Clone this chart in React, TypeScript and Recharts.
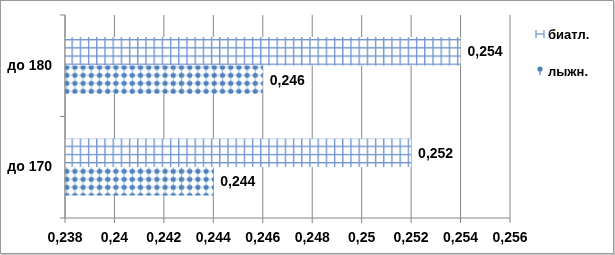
import { BarChart, Bar, XAxis, YAxis, CartesianGrid, LabelList } from 'recharts'

const categories = ['до 180', 'до 170']
const biatlValues = [0.254, 0.252]
const lyzhnValues = [0.246, 0.244]
const seriesNames = ['биатл.', 'лыжн.']
const xTicks = [0.238, 0.24, 0.242, 0.244, 0.246, 0.248, 0.25, 0.252, 0.254, 0.256]

const data = categories.map((name, i) => ({
  name,
  biatl: biatlValues[i],
  lyzhn: lyzhnValues[i],
}))

const FONT = '"Liberation Sans", Arial, sans-serif'
const GRID = '#868686'
const BLUE = '#4f81bd'
const TOP = 15
const PLOT_H = 203
const BAND = PLOT_H / categories.length

function fmt(v: number): string {
  return String(Number(v.toFixed(3))).replace('.', ',')
}

// recharts hands the tick x already shifted left by tickSize + tickMargin (6 + 2)
function CategoryTick(props: any) {
  const { y, payload, index } = props
  const ax = props.x + 8
  const last = index === categories.length - 1
  return (
    <g>
      <line x1={ax - 5} x2={ax} y1={y - BAND / 2} y2={y - BAND / 2} stroke={GRID} />
      {last && <line x1={ax - 5} x2={ax} y1={y + BAND / 2} y2={y + BAND / 2} stroke={GRID} />}
      <text
        x={ax - 13}
        y={y - 1}
        textAnchor="end"
        dominantBaseline="central"
        fontFamily={FONT}
        fontWeight="bold"
        fontSize={14}
        fill="#000"
      >
        {payload.value}
      </text>
    </g>
  )
}

function LegendIcon({ i }: { i: number }) {
  if (i === 0) {
    return (
      <svg width={10} height={10} style={{ marginRight: 3 }}>
        <line x1={1} x2={1} y1={1} y2={9} stroke="#7b9fd6" strokeWidth={1.4} />
        <line x1={9} x2={9} y1={1} y2={9} stroke="#7b9fd6" strokeWidth={1.4} />
        <line x1={1} x2={9} y1={5} y2={5} stroke="#7b9fd6" strokeWidth={1.4} />
      </svg>
    )
  }
  return (
    <svg width={10} height={10} style={{ marginRight: 3 }}>
      <line x1={5} x2={5} y1={3} y2={9} stroke={BLUE} strokeWidth={1.2} />
      <circle cx={5} cy={3} r={2.6} fill={BLUE} />
    </svg>
  )
}

export default function App() {
  return (
    <div
      style={{
        position: 'fixed',
        left: 0,
        top: 0,
        width: 612,
        height: 252,
        border: '1px solid #9a9a9a',
        boxShadow: '1px 1px 0 #c8c8c8',
        background: '#fff',
      }}
    >
      <div style={{ position: 'absolute', left: -1, top: -1 }}>
        <BarChart
          width={615}
          height={255}
          data={data}
          layout="vertical"
          margin={{ top: TOP, right: 105, left: 0, bottom: 0 }}
          barGap={0}
        >
          <defs>
            <pattern id="gridFill" width={8.2} height={8.2} patternUnits="userSpaceOnUse" x={63.3} y={39}>
              <rect width={8.2} height={8.2} fill="#fff" />
              <line x1={0.6} x2={0.6} y1={0} y2={8.2} stroke="#6f95cf" strokeWidth={1.5} />
              <line x1={0} x2={8.2} y1={0.6} y2={0.6} stroke="#6f95cf" strokeWidth={1.5} />
            </pattern>
            <pattern id="dotFill" width={8.2} height={8} patternUnits="userSpaceOnUse" x={62.6} y={63.3}>
              <rect width={8.2} height={8} fill="#fff" />
              <line x1={0} x2={8.2} y1={4} y2={4} stroke="#a9c0e3" strokeWidth={1} />
              <line x1={4.1} x2={4.1} y1={0} y2={8} stroke="#a9c0e3" strokeWidth={1} />
              <circle cx={4.1} cy={4} r={2.6} fill={BLUE} />
            </pattern>
          </defs>
          <CartesianGrid horizontal={false} stroke={GRID} />
          <XAxis
            type="number"
            domain={[0.238, 0.256]}
            ticks={xTicks}
            tickFormatter={fmt}
            interval={0}
            height={37}
            axisLine={{ stroke: GRID }}
            tickLine={{ stroke: GRID }}
            tickSize={5}
            tickMargin={9}
            tick={{ fill: '#000', fontFamily: FONT, fontWeight: 'bold', fontSize: 14 }}
          />
          <YAxis
            type="category"
            dataKey="name"
            width={65}
            axisLine={{ stroke: GRID }}
            tickLine={false}
            tickSize={6}
            tickMargin={2}
            tick={<CategoryTick />}
          />
          <Bar dataKey="biatl" name={seriesNames[0]} fill="url(#gridFill)" barSize={28.5} isAnimationActive={false}>
            <LabelList
              dataKey="biatl"
              position="right"
              offset={7}
              formatter={(v: any) => fmt(Number(v))}
              style={{ fill: '#000', fontFamily: FONT, fontWeight: 'bold', fontSize: 14 }}
            />
          </Bar>
          <Bar dataKey="lyzhn" name={seriesNames[1]} fill="url(#dotFill)" barSize={28.5} isAnimationActive={false}>
            <LabelList
              dataKey="lyzhn"
              position="right"
              offset={7}
              formatter={(v: any) => fmt(Number(v))}
              style={{ fill: '#000', fontFamily: FONT, fontWeight: 'bold', fontSize: 14 }}
            />
          </Bar>
        </BarChart>
      </div>
      <div style={{ position: 'absolute', left: 534, top: 24, fontFamily: FONT, fontWeight: 'bold', fontSize: 13 }}>
        {seriesNames.map((s, i) => (
          <div key={s} style={{ display: 'flex', alignItems: 'center', height: 18, marginBottom: i === 0 ? 19 : 0 }}>
            <LegendIcon i={i} />
            <span>{s}</span>
          </div>
        ))}
      </div>
    </div>
  )
}
